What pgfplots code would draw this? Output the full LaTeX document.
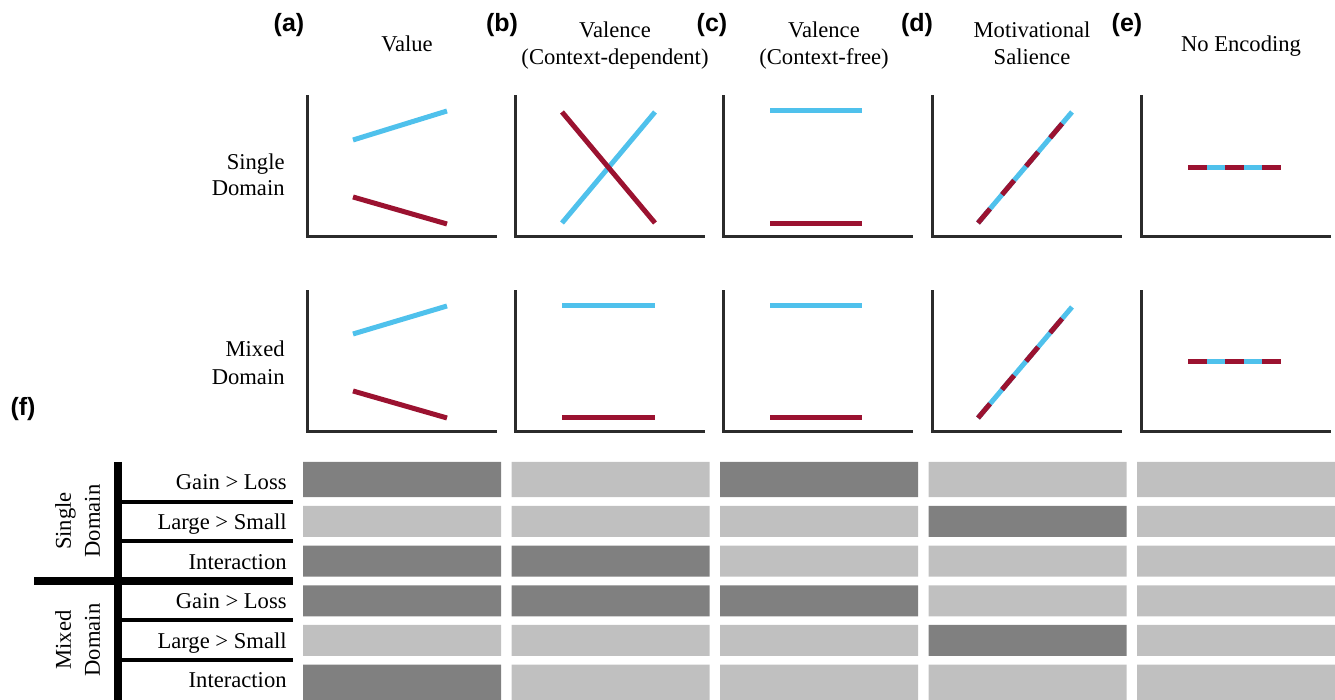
\documentclass[border=0pt]{standalone}
\usepackage{fontspec}
\setmainfont{Liberation Serif}
\newfontfamily\labfont{Liberation Sans}
\usepackage{pgfplots}
\pgfplotsset{compat=1.18}
\definecolor{cblue}{HTML}{4FC1EC}
\definecolor{cred}{HTML}{9B1230}
\definecolor{caxis}{HTML}{2B2B2B}
\definecolor{cdark}{HTML}{808080}
\definecolor{clight}{HTML}{C0C0C0}
\pgfplotsset{
  panel/.style={scale only axis, width=94pt, height=70pt,
    xmin=0, xmax=188, ymin=0, ymax=140,
    axis x line=bottom, axis y line=left,
    axis line style={-, line width=1.5pt, color=caxis, line cap=rect},
    xtick=\empty, ytick=\empty, clip=false, anchor=south west},
  trace/.style={line width=2.5pt, no markers},
  dashr/.style={line width=2.5pt, no markers, cred, dash pattern=on 9.3pt off 9.3pt},
}
\newcommand{\tfont}{\fontsize{11.3}{13.5}\selectfont}
\newcommand{\lfont}{\labfont\bfseries\fontsize{12.5}{14}\selectfont}
\begin{document}
\begin{tikzpicture}[x=0.5pt, y=0.5pt]
\useasboundingbox (0,0) rectangle (1335,700);

% ---------- Row 1 (Single Domain) ----------
\begin{axis}[panel, at={(153.5pt,231.5pt)}]
  \addplot[trace, cblue] coordinates {(46,97) (140,126)};
  \addplot[trace, cred] coordinates {(46,40) (140,13)};
\end{axis}
\begin{axis}[panel, at={(257.5pt,231.5pt)}]
  \addplot[trace, cblue] coordinates {(47,14) (140,125)};
  \addplot[trace, cred] coordinates {(47,125) (140,14)};
\end{axis}
\begin{axis}[panel, at={(361.5pt,231.5pt)}]
  \addplot[trace, cblue] coordinates {(47,126) (139,126)};
  \addplot[trace, cred] coordinates {(47,13) (139,13)};
\end{axis}
\begin{axis}[panel, at={(466pt,231.5pt)}]
  \addplot[trace, cblue] coordinates {(46,14) (140,125)};
  \addplot[dashr] coordinates {(46,14) (140,125)};
\end{axis}
\begin{axis}[panel, at={(570.5pt,231.5pt)}]
  \addplot[trace, cblue] coordinates {(47,69) (140,69)};
  \addplot[dashr] coordinates {(47,69) (140,69)};
\end{axis}

% ---------- Row 2 (Mixed Domain) ----------
\begin{axis}[panel, at={(153.5pt,134pt)}]
  \addplot[trace, cblue] coordinates {(46,98) (140,126)};
  \addplot[trace, cred] coordinates {(46,41) (140,14)};
\end{axis}
\begin{axis}[panel, at={(257.5pt,134pt)}]
  \addplot[trace, cblue] coordinates {(47,126) (140,126)};
  \addplot[trace, cred] coordinates {(47,14) (140,14)};
\end{axis}
\begin{axis}[panel, at={(361.5pt,134pt)}]
  \addplot[trace, cblue] coordinates {(47,126) (139,126)};
  \addplot[trace, cred] coordinates {(47,14) (139,14)};
\end{axis}
\begin{axis}[panel, at={(466pt,134pt)}]
  \addplot[trace, cblue] coordinates {(46,14) (140,125)};
  \addplot[dashr] coordinates {(46,14) (140,125)};
\end{axis}
\begin{axis}[panel, at={(570.5pt,134pt)}]
  \addplot[trace, cblue] coordinates {(47,70) (140,70)};
  \addplot[dashr] coordinates {(47,70) (140,70)};
\end{axis}

% ---------- (f) grid: columns 1..5 (a..e), rows 6 (top) .. 1 (bottom) ----------
\begin{axis}[scale only axis, hide axis, clip=false, anchor=south west,
  at={(151.5pt,0pt)}, width=516.04pt, height=119.04pt,
  xmin=0.525, xmax=5.475, ymin=0.5, ymax=6.5,
  unbounded coords=jump]
  % dark cells (effect present)
  \addplot[fill=cdark, draw=none] coordinates {
    (0.525,5.61) (1.475,5.61) (1.475,6.5) (0.525,6.5) (nan,nan)
    (2.525,5.61) (3.475,5.61) (3.475,6.5) (2.525,6.5) (nan,nan)
    (3.525,4.61) (4.475,4.61) (4.475,5.39) (3.525,5.39) (nan,nan)
    (0.525,3.61) (1.475,3.61) (1.475,4.39) (0.525,4.39) (nan,nan)
    (1.525,3.61) (2.475,3.61) (2.475,4.39) (1.525,4.39) (nan,nan)
    (0.525,2.61) (1.475,2.61) (1.475,3.39) (0.525,3.39) (nan,nan)
    (1.525,2.61) (2.475,2.61) (2.475,3.39) (1.525,3.39) (nan,nan)
    (2.525,2.61) (3.475,2.61) (3.475,3.39) (2.525,3.39) (nan,nan)
    (3.525,1.61) (4.475,1.61) (4.475,2.39) (3.525,2.39) (nan,nan)
    (0.525,0.5) (1.475,0.5) (1.475,1.39) (0.525,1.39)
  };
  % light cells (no effect)
  \addplot[fill=clight, draw=none] coordinates {
    (1.525,5.61) (2.475,5.61) (2.475,6.5) (1.525,6.5) (nan,nan)
    (3.525,5.61) (4.475,5.61) (4.475,6.5) (3.525,6.5) (nan,nan)
    (4.525,5.61) (5.475,5.61) (5.475,6.5) (4.525,6.5) (nan,nan)
    (0.525,4.61) (1.475,4.61) (1.475,5.39) (0.525,5.39) (nan,nan)
    (1.525,4.61) (2.475,4.61) (2.475,5.39) (1.525,5.39) (nan,nan)
    (2.525,4.61) (3.475,4.61) (3.475,5.39) (2.525,5.39) (nan,nan)
    (4.525,4.61) (5.475,4.61) (5.475,5.39) (4.525,5.39) (nan,nan)
    (2.525,3.61) (3.475,3.61) (3.475,4.39) (2.525,4.39) (nan,nan)
    (3.525,3.61) (4.475,3.61) (4.475,4.39) (3.525,4.39) (nan,nan)
    (4.525,3.61) (5.475,3.61) (5.475,4.39) (4.525,4.39) (nan,nan)
    (3.525,2.61) (4.475,2.61) (4.475,3.39) (3.525,3.39) (nan,nan)
    (4.525,2.61) (5.475,2.61) (5.475,3.39) (4.525,3.39) (nan,nan)
    (0.525,1.61) (1.475,1.61) (1.475,2.39) (0.525,2.39) (nan,nan)
    (1.525,1.61) (2.475,1.61) (2.475,2.39) (1.525,2.39) (nan,nan)
    (2.525,1.61) (3.475,1.61) (3.475,2.39) (2.525,2.39) (nan,nan)
    (4.525,1.61) (5.475,1.61) (5.475,2.39) (4.525,2.39) (nan,nan)
    (1.525,0.5) (2.475,0.5) (2.475,1.39) (1.525,1.39) (nan,nan)
    (2.525,0.5) (3.475,0.5) (3.475,1.39) (2.525,1.39) (nan,nan)
    (3.525,0.5) (4.475,0.5) (4.475,1.39) (3.525,1.39) (nan,nan)
    (4.525,0.5) (5.475,0.5) (5.475,1.39) (4.525,1.39)
  };
\end{axis}

% table structure lines
\draw[line width=4pt] (118,238) -- (118,0);
\draw[line width=4pt] (34,119) -- (293,119);
\foreach \yy in {198,159,80,40} \draw[line width=1.7pt] (122,\yy) -- (293,\yy);

% ---------- texts ----------
\begin{scope}[every node/.style={font=\tfont, inner sep=0pt}]
\node[anchor=base] at (407,648) {Value};
\node[anchor=base] at (615,662) {Valence};
\node[anchor=base] at (615,635) {(Context-dependent)};
\node[anchor=base] at (824,662) {Valence};
\node[anchor=base] at (824,635) {(Context-free)};
\node[anchor=base] at (1032,662) {Motivational};
\node[anchor=base] at (1032,635) {Salience};
\node[anchor=base] at (1241,648) {No Encoding};

\node[anchor=base east] at (285,530) {Single};
\node[anchor=base east] at (285,504) {Domain};
\node[anchor=base east] at (285,343) {Mixed};
\node[anchor=base east] at (285,315) {Domain};

\node[anchor=base east] at (287,210) {Gain > Loss};
\node[anchor=base east] at (287,170) {Large > Small};
\node[anchor=base east] at (287,130) {Interaction};
\node[anchor=base east] at (287,91) {Gain > Loss};
\node[anchor=base east] at (287,51) {Large > Small};
\node[anchor=base east] at (287,12) {Interaction};

\node[anchor=base, rotate=90] at (71,179) {Single};
\node[anchor=base, rotate=90] at (100,179) {Domain};
\node[anchor=base, rotate=90] at (71,60) {Mixed};
\node[anchor=base, rotate=90] at (100,60) {Domain};
\end{scope}

\begin{scope}[every node/.style={font=\lfont, inner sep=0pt, anchor=base}]
\node at (289,668) {(a)};
\node at (502,668) {(b)};
\node at (712,668) {(c)};
\node at (917,668) {(d)};
\node at (1127,668) {(e)};
\node at (23,284) {(f)};
\end{scope}
\end{tikzpicture}
\end{document}
